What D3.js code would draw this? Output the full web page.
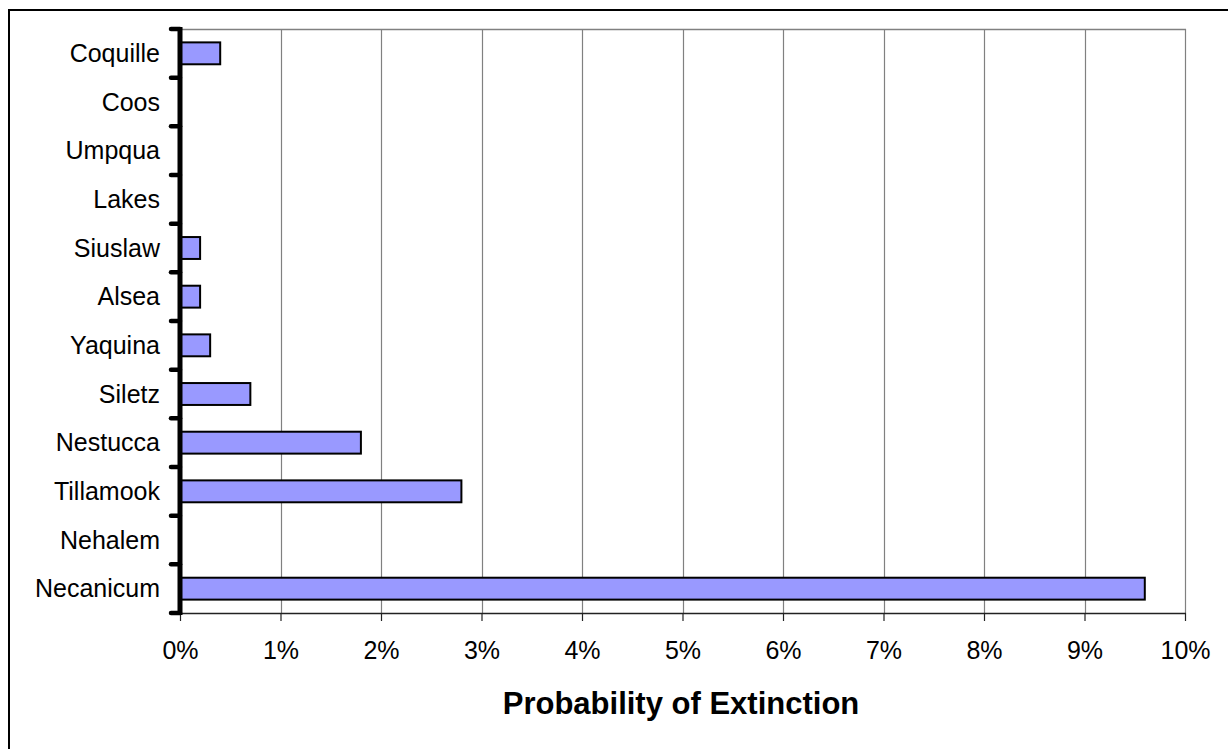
<!DOCTYPE html>
<html>
<head>
<meta charset="utf-8">
<script src="https://cdn.jsdelivr.net/npm/d3@7"></script>
<style>
  html, body { margin: 0; padding: 0; background: #fff; }
  svg { display: block; }
  text { font-family: Arial, "Liberation Sans", sans-serif; fill: #000; }
</style>
</head>
<body>
<svg id="chart" width="1228" height="749"></svg>
<script>
// Data (top to bottom)
const categories = ["Coquille","Coos","Umpqua","Lakes","Siuslaw","Alsea","Yaquina","Siletz","Nestucca","Tillamook","Nehalem","Necanicum"];
const values = [0.004, 0, 0, 0, 0.002, 0.002, 0.003, 0.007, 0.018, 0.028, 0, 0.096];
const xTicks = [0,0.01,0.02,0.03,0.04,0.05,0.06,0.07,0.08,0.09,0.10];
const xTitle = "Probability of Extinction";

const svg = d3.select("#chart");
const pLeft = 180, pRight = 1185, pTop = 29, pBottom = 613;

// outer border
svg.append("rect").attr("x", 9).attr("y", 10).attr("width", 1240).attr("height", 760)
  .attr("fill", "none").attr("stroke", "#000").attr("stroke-width", 2);

const x = d3.scaleLinear().domain([0, 0.10]).range([pLeft, pRight]);
const y = d3.scaleBand().domain(categories).range([pTop, pBottom]).paddingInner(0.55).paddingOuter(0.275);
const yb = d3.scaleLinear().domain([0, categories.length]).range([pTop, pBottom]);

// gridlines
svg.append("g").selectAll("line").data(xTicks.slice(1)).join("line")
  .attr("x1", d => Math.round(x(d)) + 0.5).attr("x2", d => Math.round(x(d)) + 0.5)
  .attr("y1", pTop).attr("y2", pBottom)
  .attr("stroke", "#808080").attr("stroke-width", 1.2);
// top border of plot
svg.append("line").attr("x1", pLeft).attr("x2", pRight + 1).attr("y1", pTop + 0.5).attr("y2", pTop + 0.5)
  .attr("stroke", "#808080").attr("stroke-width", 1.5);

// bars
svg.append("g").selectAll("rect").data(categories.map((c, i) => ({c, v: values[i]})).filter(d => d.v > 0)).join("rect")
  .attr("x", x(0)).attr("y", d => y(d.c))
  .attr("width", d => x(d.v) - x(0)).attr("height", y.bandwidth())
  .attr("fill", "#9999ff").attr("stroke", "#000").attr("stroke-width", 2);

// x axis
const xAxis = d3.axisBottom(x).tickValues(xTicks).tickFormat(d3.format(".0%")).tickSize(8).tickSizeOuter(0);
const gx = svg.append("g").attr("transform", `translate(0,${pBottom})`).call(xAxis);
gx.select(".domain").attr("stroke", "#222").attr("stroke-width", 1.5).attr("d", `M${pLeft},0.5H${pRight + 1}`);
gx.selectAll(".tick line").attr("stroke", "#222").attr("stroke-width", 1.2);
gx.selectAll(".tick text").attr("font-size", 25).attr("y", 46).attr("dy", 0)
  .attr("font-family", "Arial, 'Liberation Sans', sans-serif").attr("fill", "#000");

// y axis
const ticksY = d3.range(categories.length + 1);
svg.append("g").selectAll("line").data(ticksY).join("line")
  .attr("x1", pLeft - 9).attr("x2", pLeft).attr("y1", d => yb(d)).attr("y2", d => yb(d))
  .attr("stroke", "#000").attr("stroke-width", 4.5).attr("stroke-linecap", "round");
svg.append("line").attr("x1", pLeft).attr("x2", pLeft).attr("y1", pTop - 2).attr("y2", pBottom + 2)
  .attr("stroke", "#000").attr("stroke-width", 5);

// category labels
svg.append("g").selectAll("text").data(categories).join("text")
  .attr("x", 160).attr("y", d => y(d) + y.bandwidth() / 2).attr("dy", "0.35em")
  .attr("text-anchor", "end").attr("font-size", 25).text(d => d);

// axis title
svg.append("text").attr("x", 681).attr("y", 714).attr("text-anchor", "middle")
  .attr("font-size", 31).attr("font-weight", "bold").text(xTitle);
</script>
</body>
</html>
